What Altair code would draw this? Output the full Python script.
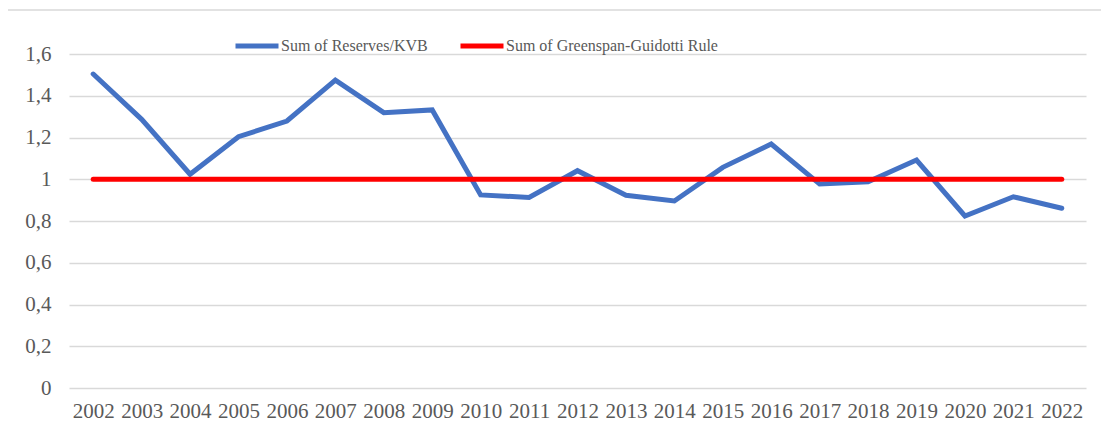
import altair as alt
import pandas as pd

years = [str(y) for y in range(2002, 2023)]
reserves_kvb = [1.504, 1.287, 1.024, 1.204, 1.279, 1.475, 1.319, 1.332, 0.925, 0.913,
                1.041, 0.923, 0.896, 1.057, 1.169, 0.977, 0.988, 1.092, 0.824, 0.916, 0.861]
greenspan = [1.0] * len(years)
series_names = ["Sum of Reserves/KVB", "Sum of Greenspan-Guidotti Rule"]
series_colors = ["#4472C4", "#FF0000"]
y_ticks = [0, 0.2, 0.4, 0.6, 0.8, 1.0, 1.2, 1.4, 1.6]

df = pd.DataFrame({
    "year": years * 2,
    "value": reserves_kvb + greenspan,
    "series": [series_names[0]] * len(years) + [series_names[1]] * len(years),
})

FONT = "Liberation Serif"
TXT = "#595959"
W, H = 1017, 334

color = alt.Color(
    "series:N",
    scale=alt.Scale(domain=series_names, range=series_colors),
    legend=alt.Legend(
        title=None, orient="none", legendX=164, legendY=-32,
        direction="horizontal", columns=2, columnPadding=22,
        symbolType="stroke", symbolSize=1849, symbolStrokeWidth=5,
        labelFont=FONT, labelFontSize=16, labelColor=TXT, labelOffset=0,
        labelLimit=0,
    ),
)

x = alt.X("year:O", sort=years, scale=alt.Scale(type="point", padding=0.5),
          axis=alt.Axis(title=None, labelAngle=0, domain=False, ticks=False,
                        labelFont=FONT, labelFontSize=21, labelColor=TXT,
                        labelPadding=12, grid=False))
y = alt.Y("value:Q", scale=alt.Scale(domain=[0, 1.6], nice=False),
          axis=alt.Axis(title=None, values=y_ticks, domain=False, ticks=False,
                        grid=True, gridColor="#D9D9D9", gridWidth=1.5,
                        labelFont=FONT, labelFontSize=21, labelColor=TXT,
                        labelPadding=18,
                        labelExpr="replace(format(datum.value, '~g'), '.', ',')"))

base = alt.Chart(df)
blue = base.transform_filter(alt.datum.series == series_names[0]).mark_line(
    strokeWidth=5, strokeCap="round", strokeJoin="miter").encode(x=x, y=y, color=color)
red = base.transform_filter(alt.datum.series == series_names[1]).mark_line(
    strokeWidth=5, strokeCap="round").encode(x=x, y=y, color=color)

frame = alt.Chart(pd.DataFrame({"f": [0]})).mark_rect(
    fill=None, stroke="#D9D9D9", strokeWidth=1.5).encode(
    x=alt.value(-62), y=alt.value(-44), x2=alt.value(W + 60), y2=alt.value(H + 80))

chart = alt.layer(frame, blue, red).properties(
    width=W, height=H,
    autosize=alt.AutoSizeParams(type="none"),
    padding={"left": 61, "top": 46, "right": 15, "bottom": 39},
).configure_view(stroke=None)

chart.save("out.html", embed_options={"renderer": "svg", "actions": False})
